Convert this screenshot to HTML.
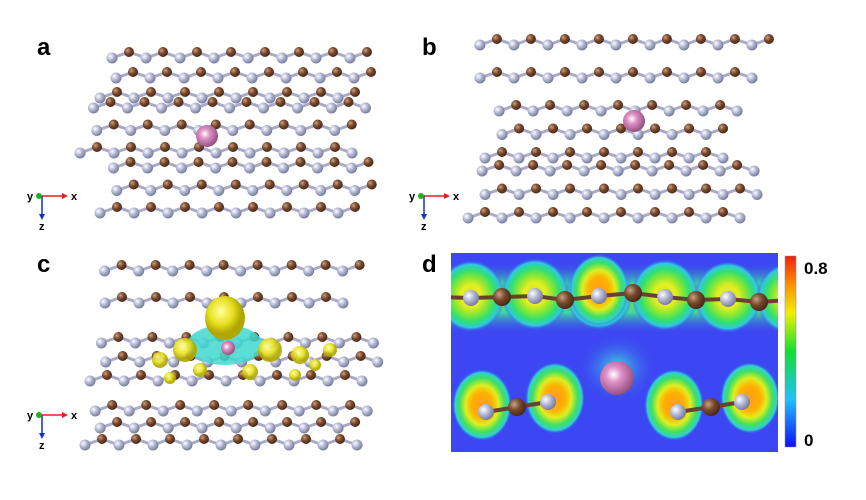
<!DOCTYPE html>
<html><head><meta charset="utf-8"><style>
body{margin:0;background:#fff;width:866px;height:500px;overflow:hidden;font-family:"Liberation Sans",sans-serif}
svg{position:absolute;left:0;top:0}
</style></head><body>
<svg id="s" width="866" height="500" xmlns="http://www.w3.org/2000/svg">
<defs>
<radialGradient id="gb" cx="35%" cy="35%" r="65%"><stop offset="0" stop-color="#c9a088"/><stop offset="0.5" stop-color="#7a4a2c"/><stop offset="1" stop-color="#4a2a18"/></radialGradient>
<radialGradient id="gg" cx="35%" cy="35%" r="65%"><stop offset="0" stop-color="#ffffff"/><stop offset="0.5" stop-color="#b4b8d4"/><stop offset="1" stop-color="#7a7f9e"/></radialGradient>
<radialGradient id="gp" cx="40%" cy="40%" r="65%"><stop offset="0" stop-color="#ffffff"/><stop offset="0.35" stop-color="#e090c8"/><stop offset="1" stop-color="#8a4a78"/></radialGradient>
<radialGradient id="halo"><stop offset="0" stop-color="#b8e830"/><stop offset="0.3" stop-color="#e8ee20"/><stop offset="0.5" stop-color="#90e830"/><stop offset="0.72" stop-color="#30e070"/><stop offset="0.88" stop-color="#30c8e0"/><stop offset="1" stop-color="#3a48f0" stop-opacity="0"/></radialGradient>
<radialGradient id="halo2"><stop offset="0" stop-color="#ff9a20"/><stop offset="0.35" stop-color="#ffb000"/><stop offset="0.55" stop-color="#e0ee20"/><stop offset="0.75" stop-color="#40e060"/><stop offset="0.9" stop-color="#30d0d0"/><stop offset="1" stop-color="#3a48f0" stop-opacity="0"/></radialGradient>
<radialGradient id="cy"><stop offset="0" stop-color="#40e0e0"/><stop offset="1" stop-color="#3a48f0" stop-opacity="0"/></radialGradient>
<radialGradient id="yel" cx="40%" cy="35%"><stop offset="0" stop-color="#ffffa0"/><stop offset="0.6" stop-color="#e8e020"/><stop offset="1" stop-color="#b0a800"/></radialGradient>
<linearGradient id="band" x1="0" y1="0" x2="0" y2="1"><stop offset="0" stop-color="#3a48f0" stop-opacity="0"/><stop offset="0.3" stop-color="#40d8a0"/><stop offset="0.5" stop-color="#80e040"/><stop offset="0.7" stop-color="#40d8a0"/><stop offset="1" stop-color="#3a48f0" stop-opacity="0"/></linearGradient>
<linearGradient id="cb" x1="0" y1="1" x2="0" y2="0"><stop offset="0" stop-color="#1010ff"/><stop offset="0.25" stop-color="#20c0ff"/><stop offset="0.5" stop-color="#10e030"/><stop offset="0.7" stop-color="#f0f000"/><stop offset="0.85" stop-color="#ff9000"/><stop offset="1" stop-color="#f02010"/></linearGradient>
<clipPath id="dc"><rect x="451" y="253" width="327" height="199"/></clipPath>
</defs>
<g id="mol"></g>
<g clip-path="url(#dc)">
<rect x="451" y="253" width="327" height="199" fill="#3c46f2"/>
<rect x="451" y="262" width="327" height="72" fill="url(#band)"/>
<g id="halos"></g>
<ellipse cx="617" cy="368" rx="40" ry="35" fill="url(#cy)"/>
<g id="dchain"></g>
</g>
<rect x="785" y="256" width="11" height="191" fill="url(#cb)" stroke="#888" stroke-width="0.5"/>
<text x="804" y="274" font-size="17" font-weight="bold">0.8</text>
<text x="804" y="446" font-size="17" font-weight="bold">0</text>
<text x="37" y="55" font-size="24" font-weight="bold">a</text>
<text x="422" y="55" font-size="24" font-weight="bold">b</text>
<text x="37" y="272" font-size="24" font-weight="bold">c</text>
<text x="422" y="272" font-size="24" font-weight="bold">d</text>
</svg>
<script>
var NS="http://www.w3.org/2000/svg",mol=document.getElementById('mol');
function el(p,t,a){var e=document.createElementNS(NS,t);for(var k in a)e.setAttribute(k,a[k]);p.appendChild(e);return e;}
function layer(x0,x1,y0,y1,rows){
  var g=el(mol,'g',{});
  for(var r=0;r<rows;r++){
    var y=y0+(y1-y0)*r/(rows-1);
    var sx=x0+(r%2)*10+(y1-y)*0.3, ex=x1-r*8;
    var pts=[];for(var x=sx,i=0;x<ex;x+=17,i++){pts.push([x,y+((i%2)?-3:3)]);}
    for(var i=1;i<pts.length;i++)el(g,'line',{x1:pts[i-1][0],y1:pts[i-1][1],x2:pts[i][0],y2:pts[i][1],stroke:'#a8aac8','stroke-width':3});
    pts.forEach(function(p,i){el(g,'circle',{cx:p[0],cy:p[1],r:i%2?5:5.5,fill:i%2?'url(#gb)':'url(#gg)'});});
  }
}
layer(100,380,55,95,3);layer(80,375,105,150,3);layer(100,380,165,210,3);
layer(470,775,42,75,2);layer(485,745,108,155,3);layer(468,770,168,215,3);
layer(95,360,268,300,2);layer(90,390,340,378,3);layer(85,380,408,442,3);
el(mol,'circle',{cx:207,cy:136,r:11,fill:'url(#gp)'});
el(mol,'circle',{cx:634,cy:121,r:11,fill:'url(#gp)'});
var cg=el(mol,'g',{});
el(cg,'ellipse',{cx:225,cy:345,rx:38,ry:20,fill:'#40d8d0',opacity:0.85});
[[185,350,12],[270,350,12],[300,355,9],[160,360,8],[330,350,7],[200,370,7],[250,372,8],[170,378,6],[295,375,6],[315,365,6]].forEach(function(b){el(cg,'circle',{cx:b[0],cy:b[1],r:b[2],fill:'url(#yel)',opacity:0.9});});
el(cg,'ellipse',{cx:225,cy:318,rx:20,ry:22,fill:'url(#yel)'});
el(cg,'circle',{cx:228,cy:348,r:7,fill:'url(#gp)'});
function axes(x,y){var g=el(mol,'g',{});
 el(g,'line',{x1:x,y1:y,x2:x+22,y2:y,stroke:'#e02020','stroke-width':1.5});el(g,'path',{d:'M'+(x+26)+' '+y+' l-6 -3 v6z',fill:'#e02020'});
 el(g,'line',{x1:x,y1:y,x2:x,y2:y+20,stroke:'#1030d0','stroke-width':1.5});el(g,'path',{d:'M'+x+' '+(y+24)+' l-3 -6 h6z',fill:'#1030d0'});
 el(g,'circle',{cx:x-3,cy:y,r:3,fill:'#20b020'});
 var t=el(g,'text',{x:x+29,y:y+4,'font-size':11,'font-weight':'bold'});t.textContent='x';
 t=el(g,'text',{x:x-15,y:y+4,'font-size':11,'font-weight':'bold'});t.textContent='y';
 t=el(g,'text',{x:x-3,y:y+34,'font-size':11,'font-weight':'bold'});t.textContent='z';}
axes(42,196);axes(424,196);axes(42,415);
var H=document.getElementById('halos'),D=document.getElementById('dchain');
var tops=[[440,297,1],[471,298,0],[502,297,1],[535,296,0],[565,300,1],[599,296,0],[633,293,1],[665,297,0],[696,300,1],[728,299,0],[759,302,1],[790,300,0]];
tops.forEach(function(a){if(!a[2])el(H,'ellipse',{cx:a[0],cy:a[1]-2,rx:34,ry:36,fill:'url(#halo)'});});
el(H,'ellipse',{cx:599,cy:290,rx:30,ry:36,fill:'url(#halo2)'});
[[482,405],[555,398],[674,405],[750,398]].forEach(function(a){el(H,'ellipse',{cx:a[0],cy:a[1],rx:30,ry:36,fill:'url(#halo2)'});});
var bot=[[486,412,0],[517,407,1],[548,402,0],[678,412,0],[711,407,1],[742,402,0]];
function chain(arr){for(var i=1;i<arr.length;i++)el(D,'line',{x1:arr[i-1][0],y1:arr[i-1][1],x2:arr[i][0],y2:arr[i][1],stroke:'#6a4030','stroke-width':4});
 arr.forEach(function(a){el(D,'circle',{cx:a[0],cy:a[1],r:a[2]?9:8,fill:a[2]?'url(#gb)':'url(#gg)'});});}
chain(tops);
chain(bot.slice(0,3));chain(bot.slice(3));
el(D,'circle',{cx:617,cy:378,r:17,fill:'url(#gp)'});
</script>
</body></html>
